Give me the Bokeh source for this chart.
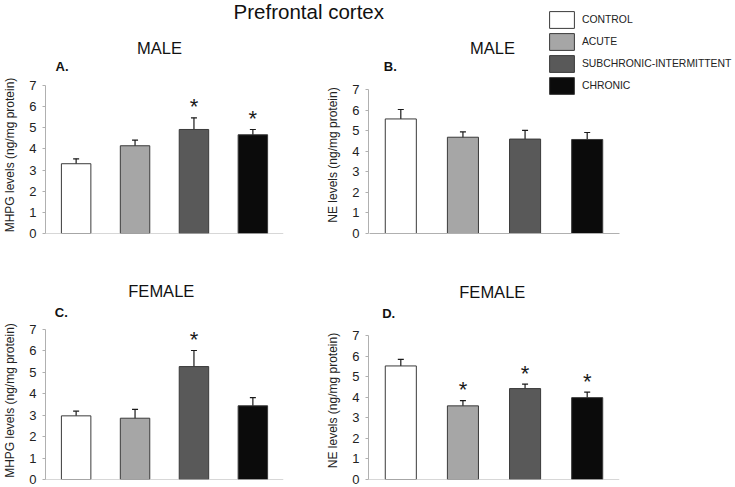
from bokeh.plotting import figure
from bokeh.models import (ColumnDataSource, FactorRange, Range1d, FixedTicker, Whisker,
                          TeeHead, Label, Legend, LegendItem, Span)
from bokeh.layouts import column, row
from bokeh.core.properties import value
from bokeh.embed import file_html
from bokeh.resources import INLINE

# ---------------- data ----------------
groups = ["CONTROL", "ACUTE", "SUBCHRONIC-INTERMITTENT", "CHRONIC"]
colors = ["#ffffff", "#a6a6a6", "#595959", "#0b0b0b"]
y_ticks = [0, 1, 2, 3, 4, 5, 6, 7]

mhpg_male = [3.30, 4.15, 4.92, 4.67]
mhpg_male_sem = [0.23, 0.27, 0.55, 0.25]
mhpg_male_sig = [False, False, True, True]

ne_male = [5.58, 4.69, 4.60, 4.58]
ne_male_sem = [0.46, 0.26, 0.42, 0.34]
ne_male_sig = [False, False, False, False]

mhpg_female = [2.97, 2.86, 5.27, 3.44]
mhpg_female_sem = [0.22, 0.41, 0.75, 0.38]
mhpg_female_sig = [False, False, True, False]

ne_female = [5.52, 3.58, 4.42, 3.98]
ne_female_sem = [0.32, 0.25, 0.22, 0.27]
ne_female_sig = [False, True, True, True]

FONT = "Liberation Sans"
W = 735
H1, H2, H3, H4 = 76, 189, 56, 166
WL = 310
YMAX = 7
AXIS_GRAY = "#b0b0b0"
TXT = "#222222"
BAR_LINE = "#3a3a3a"
PAD = 0.02  # category padding on each side (in category units)

LEGEND_STYLE = dict(orientation="vertical", glyph_width=31, glyph_height=21, spacing=1,
                    label_standoff=5, padding=0, margin=0, border_line_color=None,
                    background_fill_alpha=0, label_text_font=FONT,
                    label_text_font_size="10.4px", label_text_color=TXT, label_height=20)


def clean(p):
    p.background_fill_color = None
    p.border_fill_color = None
    p.outline_line_color = None
    p.xgrid.grid_line_color = None
    p.ygrid.grid_line_color = None


def style_yaxis(p, ylabel):
    ya = p.yaxis[0]
    ya.ticker = FixedTicker(ticks=y_ticks)
    ya.bounds = (0, YMAX)
    ya.axis_label = ylabel
    ya.axis_label_text_font = FONT
    ya.axis_label_text_font_size = "12px"
    ya.axis_label_text_font_style = "normal"
    ya.axis_label_text_color = TXT
    ya.axis_label_standoff = 9
    ya.major_label_text_font = FONT
    ya.major_label_text_font_size = "13px"
    ya.major_label_text_color = TXT
    ya.major_label_standoff = 6
    ya.major_tick_out = 3
    ya.major_tick_in = 0
    ya.minor_tick_line_color = None
    ya.axis_line_color = AXIS_GRAY
    ya.major_tick_line_color = AXIS_GRAY


def add_marks(p, src, xcol, vals, sems, sig):
    bars = p.vbar(x=xcol, top="v", width=0.5, source=src, fill_color="c",
                  line_color=BAR_LINE, line_width=1)
    w = Whisker(base=xcol, upper="up", lower="lo", source=src,
                line_color="#1a1a1a", line_width=1.2,
                upper_head=TeeHead(size=6, line_color="#1a1a1a", line_width=1.2),
                lower_head=TeeHead(size=6, line_color="#1a1a1a", line_width=1.2))
    p.add_layout(w)
    xs = src.data[xcol]
    sg = [x for x, s in zip(xs, sig) if s]
    sy = [v + e for v, e, s in zip(vals, sems, sig) if s]
    if sg:
        ssrc = ColumnDataSource(dict(x=sg, y=sy, t=["*"] * len(sg)))
        p.text(x="x", y="y", text="t", source=ssrc, text_align="center",
               text_baseline="alphabetic", y_offset=-11,
               text_font=value(FONT), text_font_size="22px", text_color="#1a1a1a")
    return bars


def make_src(vals, sems):
    return ColumnDataSource(dict(
        g=groups, i=list(range(len(groups))), v=vals,
        up=[v + s for v, s in zip(vals, sems)],
        lo=[v - s for v, s in zip(vals, sems)],
        c=colors))


def panel(vals, sems, sig, ylabel, width, height, left, right, bottom, h07):
    """Frame spans from the canvas top; the 0..7 axis occupies h07 pixels at its bottom."""
    src = make_src(vals, sems)
    y1 = YMAX * (height - bottom) / h07
    p = figure(width=width, height=height,
               x_range=FactorRange(*groups, range_padding=PAD * 2 / len(groups)),
               y_range=Range1d(0, y1), output_backend="svg", toolbar_location=None,
               x_axis_location=None,
               min_border_left=left, min_border_top=0,
               min_border_right=right, min_border_bottom=bottom)
    clean(p)
    bars = add_marks(p, src, "g", vals, sems, sig)
    p.add_layout(Span(location=0, dimension="width", line_color=AXIS_GRAY, line_width=1.2))
    style_yaxis(p, ylabel)
    return p, bars


def axis_only(ylabel, width, height, left, bottom, h07):
    """Narrow figure that carries only the y axis of a panel."""
    y1 = YMAX * (height - bottom) / h07
    p = figure(width=width, height=height, x_range=Range1d(0, 1), y_range=Range1d(0, y1),
               output_backend="svg", toolbar_location=None, x_axis_location=None,
               min_border_left=left, min_border_top=0, min_border_right=0,
               min_border_bottom=bottom)
    clean(p)
    style_yaxis(p, ylabel)
    return p


def panel_data(vals, sems, sig, width, height, bottom, frame_w_bars, h07, shift_px):
    """Bars of a panel whose frame reaches the top/right canvas edges
    (leaves room for a legend entry); the x axis line is bounded to the bar area."""
    src = make_src(vals, sems)
    n = len(groups)
    unit = (n + 2 * PAD) / frame_w_bars
    x0 = -0.5 - PAD + shift_px * unit
    x1 = x0 + width * unit
    y1 = YMAX * (height - bottom) / h07
    p = figure(width=width, height=height, x_range=Range1d(x0, x1), y_range=Range1d(0, y1),
               output_backend="svg", toolbar_location=None, y_axis_location=None,
               min_border_left=0, min_border_top=0, min_border_right=0,
               min_border_bottom=bottom)
    clean(p)
    bars = add_marks(p, src, "i", vals, sems, sig)
    xa = p.xaxis[0]
    xa.ticker = FixedTicker(ticks=[])
    xa.bounds = (x0, n - 0.5 + PAD)
    xa.major_tick_out = 0
    xa.major_tick_in = 0
    xa.minor_tick_line_color = None
    xa.axis_line_color = AXIS_GRAY
    xa.axis_line_width = 1.2
    return p, bars


# ---------------- panels ----------------
pA, bA = panel(mhpg_male, mhpg_male_sem, mhpg_male_sig, "MHPG levels (ng/mg protein)",
               WL, H2, 41, 27, 32, 148)
pB_axis = axis_only("NE levels (ng/mg protein)", 59, H2, 58, 32, 143.7)
pB, bB = panel_data(ne_male, ne_male_sem, ne_male_sig, W - WL - 59, H2, 32, 251, 143.7, 1)
pC, bC = panel(mhpg_female, mhpg_female_sem, mhpg_female_sig, "MHPG levels (ng/mg protein)",
               WL, H4, 41, 27, 8, 150)
pD, bD = panel(ne_female, ne_female_sem, ne_female_sig, "NE levels (ng/mg protein)",
               W - WL, H4, 58, 116, 8, 144)


# ---------------- header strips ----------------
def strip(height, y0, texts):
    s = figure(width=W, height=height, x_range=Range1d(0, W), y_range=Range1d(y0 + height, y0),
               output_backend="svg", toolbar_location=None, min_border=0,
               x_axis_location=None, y_axis_location=None)
    s.background_fill_color = None
    s.border_fill_color = None
    s.outline_line_color = None
    s.grid.visible = False
    for t, x, y, fs, st, al in texts:
        s.add_layout(Label(x=x, y=y, text=t, text_font=FONT, text_font_size=f"{fs}px",
                           text_font_style=st, text_align=al, text_baseline="middle",
                           text_color="#111111"))
    return s


top = strip(H1, 0, [
    ("Prefrontal cortex", 308.3, 10.5, 20.5, "normal", "center"),
    ("MALE", 159, 47.0, 16.5, "normal", "center"),
    ("MALE", 492, 47.0, 16.5, "normal", "center"),
    ("A.", 55, 66.0, 13, "bold", "left"),
    ("B.", 383.3, 66.0, 13, "bold", "left"),
])
mid = strip(H3, H1 + H2, [
    ("FEMALE", 160.8, 290.5, 16.5, "normal", "center"),
    ("FEMALE", 491.8, 291.0, 16.5, "normal", "center"),
    ("C.", 54.3, 311.5, 13, "bold", "left"),
    ("D.", 381.7, 313.2, 13, "bold", "left"),
])

# legend: first three entries in the top strip, the last one continues inside panel B
nan = float("nan")
lsrc = ColumnDataSource(dict(x=[nan] * len(groups), top=[nan] * len(groups), c=colors))
lr = top.vbar(x="x", top="top", width=1, source=lsrc, fill_color="c",
              line_color=BAR_LINE, line_width=1)
items = [LegendItem(label=value(g), renderers=[lr], index=i) for i, g in enumerate(groups[:3])]
top.add_layout(Legend(items=items, location=(545.9, 2.4), **LEGEND_STYLE))

pB.add_layout(Legend(items=[LegendItem(label=value(groups[3]), renderers=[bB], index=3)],
                     location=(176.9, 137.4), **LEGEND_STYLE))

layout = column(top, row(pA, pB_axis, pB), mid, row(pC, pD))

open("out.html", "w").write(file_html(layout, INLINE))
